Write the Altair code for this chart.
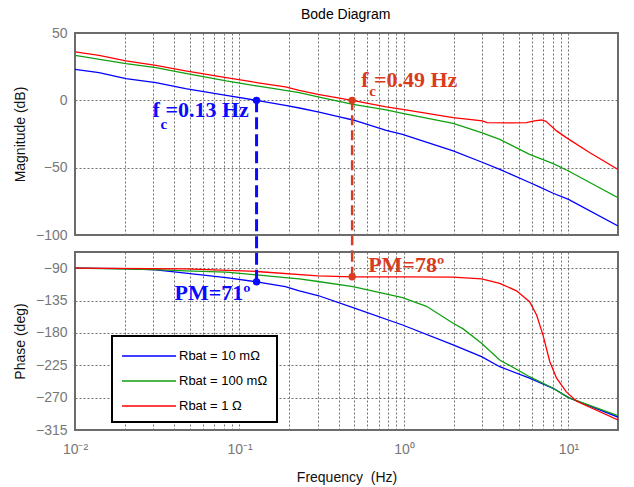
import altair as alt
import pandas as pd

# ---------------- data ----------------
series_names = ["Rbat = 10 mΩ", "Rbat = 100 mΩ", "Rbat = 1 Ω"]
series_colors = ["#0000ff", "#10a010", "#ff0000"]

blue_mag_f = [0.01, 0.014, 0.0204, 0.031, 0.047, 0.083, 0.127, 0.19, 0.231, 0.30, 0.405, 0.49,
              0.78, 0.98, 1.99, 2.96, 3.82, 5.8, 6.7, 8.07, 10, 20]
blue_mag_db = [23, 20.6, 16.1, 13.2, 8.7, 3.7, 0, -3.7, -5.7, -8.6, -12.3, -14.6,
               -22.3, -25.3, -37.6, -45.8, -51.3, -61.0, -64.5, -69.0, -73.6, -93.3]

green_mag_f = [0.01, 0.0204, 0.031, 0.047, 0.083, 0.127, 0.19, 0.231, 0.30, 0.49, 0.78, 0.98,
               1.99, 2.96, 3.82, 5.8, 8.07, 10, 20]
green_mag_db = [33.4, 27.3, 24.3, 20.1, 14.4, 10.7, 7.4, 5.7, 2.5, -3.0, -7.1, -9.7,
                -17.1, -24.0, -29.0, -40.1, -47.0, -52.5, -72.3]

red_mag_f = [0.01, 0.014, 0.0204, 0.031, 0.047, 0.083, 0.127, 0.19, 0.231, 0.30, 0.484, 0.78, 0.98,
             1.99, 3.0, 3.2, 4.5, 5.56, 6.2, 6.85, 7.3, 8.47, 9.7, 13.5, 20]
red_mag_db = [36, 33.4, 29.3, 26.0, 21.8, 16.9, 13.2, 10.0, 7.4, 4.5, 0, -4.9, -6.7,
              -12.9, -15.3, -16.6, -16.8, -16.6, -15.2, -14.6, -15.6, -22.7, -27.7, -38.9, -51.3]

blue_ph_f = [0.01, 0.0204, 0.031, 0.047, 0.083, 0.127, 0.19, 0.231, 0.30, 0.49, 0.98,
             1.99, 2.96, 3.82, 5.8, 8.07, 10, 20]
blue_ph_deg = [-90, -90.5, -92.3, -97, -103, -109, -115.5, -121.5, -128, -145, -169,
               -196.7, -213, -227, -243, -257, -270, -297]

green_ph_f = [0.01, 0.031, 0.047, 0.083, 0.127, 0.19, 0.231, 0.30, 0.49, 0.98, 1.37,
              1.99, 2.29, 2.96, 3.82, 5.8, 8.07, 10, 20]
green_ph_deg = [-90, -92, -93.7, -95.5, -99.3, -103, -105, -108.5, -115.5, -131, -143,
                -166.6, -174.4, -194.5, -217.6, -240.9, -257, -270, -295]

red_ph_f = [0.01, 0.047, 0.127, 0.30, 0.484, 0.98, 1.99, 2.96, 3.82, 4.83, 5.8, 6.4,
            7.0, 7.7, 8.47, 9.7, 11.2, 20]
red_ph_deg = [-90, -91, -94.6, -100.6, -102, -102, -102.5, -105, -111, -121.5, -136.5, -155,
              -183, -220, -243, -262, -275, -301]

crossover_f = [0.127, 0.484]
crossover_mag = [0, 0]
margin_phase = [-109, -102]
fc_texts = ["f =0.13 Hz", "f =0.49 Hz"]
pm_texts = ["PM=71º", "PM=78º"]
ann_colors = ["#0a0aff", "#d93b1e"]

decades = [0.01, 0.1, 1, 10]
decade_labels = ["10⁻²", "10⁻¹", "10⁰", "10¹"]
grid_vals = [d * k for d in [0.01, 0.1, 1] for k in range(1, 10)] + [10, 20]
mag_ticks = [-100, -50, 0, 50]
phase_ticks = [-315, -270, -225, -180, -135, -90]

# ---------------- tables ----------------
def table(fs, vs, name):
    return pd.DataFrame({"f": fs, "v": vs, "series": name})

mag_df = pd.concat([table(blue_mag_f, blue_mag_db, series_names[0]),
                    table(green_mag_f, green_mag_db, series_names[1]),
                    table(red_mag_f, red_mag_db, series_names[2])], ignore_index=True)
ph_df = pd.concat([table(blue_ph_f, blue_ph_deg, series_names[0]),
                   table(green_ph_f, green_ph_deg, series_names[1]),
                   table(red_ph_f, red_ph_deg, series_names[2])], ignore_index=True)

W = 543
H_MAG = 202
H_PH = 178
SPACING = 17
MAG_DOM = [-100, 50]
PH_DOM = [-315, -67.5]
gap_db = MAG_DOM[0] - SPACING * (MAG_DOM[1] - MAG_DOM[0]) / H_MAG

label_expr = " : ".join(
    f"datum.value == {d} ? '{l}'" for d, l in zip(decades, decade_labels)) + " : ''"

FONT = "Liberation Sans"
SERIF = "Liberation Serif"

xscale = alt.Scale(type="log", domain=[0.01, 20], nice=False)
mag_scale = alt.Scale(domain=MAG_DOM, nice=False)
ph_scale = alt.Scale(domain=PH_DOM, nice=False)
color = alt.Color("series:N", scale=alt.Scale(domain=series_names, range=series_colors), legend=None)

grid_common = dict(grid=True, gridDash=[2, 2], gridColor="#707070", gridOpacity=1, gridWidth=1,
                   ticks=False, domain=False, labelOverlap=False)

ax_x_top = alt.Axis(values=grid_vals, labels=False, title=None, **grid_common)
ax_x_bot = alt.Axis(values=grid_vals, labelExpr=label_expr, labelFlush=False,
                    labelPadding=12, title="Frequency\u00a0 (Hz)", titlePadding=14, **grid_common)
ax_y_mag = alt.Axis(values=mag_ticks, title="Magnitude (dB)", labelPadding=8, titlePadding=8, **grid_common)
ax_y_ph = alt.Axis(values=phase_ticks, title="Phase (deg)", labelPadding=8, titlePadding=8, **grid_common)

# ---------------- magnitude panel ----------------
def xt(field):
    return alt.X(field, scale=xscale, axis=ax_x_top)

def ym(field):
    return alt.Y(field, scale=mag_scale, axis=ax_y_mag)

mag_lines = alt.Chart(mag_df).mark_line(strokeWidth=1.3, clip=True).encode(
    x=xt("f:Q"), y=ym("v:Q"), color=color)

ann_df = pd.DataFrame({"f": crossover_f, "v": crossover_mag, "p": margin_phase,
                       "fc": fc_texts, "pm": pm_texts,
                       "gap": [gap_db, gap_db], "top": [PH_DOM[1], PH_DOM[1]]})

def ann_layers_mag(i, dash, sw, dx_f, dy_f, dx_c, dy_c):
    d = ann_df.iloc[[i]]
    col = ann_colors[i]
    rule = alt.Chart(d).mark_rule(color=col, strokeWidth=sw, strokeDash=dash).encode(
        x=xt("f:Q"), y=ym("v:Q"), y2="gap:Q")
    pt = alt.Chart(d).mark_circle(color=col, size=55, opacity=1).encode(x=xt("f:Q"), y=ym("v:Q"))
    t1 = alt.Chart(d).mark_text(color=col, font=SERIF, fontWeight="bold", fontSize=22,
                                align="left", baseline="alphabetic", dx=dx_f, dy=dy_f).encode(
        x=xt("f:Q"), y=ym("v:Q"), text="fc:N")
    t2 = alt.Chart(d).mark_text(color=col, font=SERIF, fontWeight="bold", fontSize=15,
                                align="left", baseline="alphabetic", dx=dx_c, dy=dy_c).encode(
        x=xt("f:Q"), y=ym("v:Q"), text=alt.value("c"))
    return [rule, pt, t1, t2]

mag_chart = alt.layer(
    mag_lines,
    *ann_layers_mag(0, [12, 5], 3, -104, 17, -96, 29),
    *ann_layers_mag(1, [10, 5], 2.5, 9, -13, 17, -4),
).properties(width=W, height=H_MAG)

# ---------------- phase panel ----------------
def xb(field):
    return alt.X(field, scale=xscale, axis=ax_x_bot)

def yp(field):
    return alt.Y(field, scale=ph_scale, axis=ax_y_ph)

legend = alt.Legend(orient="none", legendX=37, legendY=84, title=None,
                    symbolType="M-1,0H4.4", symbolSize=400, symbolStrokeWidth=1.3,
                    labelFont=FONT, labelFontSize=13, labelColor="black", labelOffset=36,
                    rowPadding=7, padding=9, strokeColor="black", fillColor="white")
color_leg = alt.Color("series:N", scale=alt.Scale(domain=series_names, range=series_colors), legend=legend)

ph_lines = alt.Chart(ph_df).mark_line(strokeWidth=1.3, clip=True).encode(
    x=xb("f:Q"), y=yp("v:Q"), color=color_leg)

def ann_layers_ph(i, dash, sw, dx, dy):
    d = ann_df.iloc[[i]]
    col = ann_colors[i]
    rule = alt.Chart(d).mark_rule(color=col, strokeWidth=sw, strokeDash=dash).encode(
        x=xb("f:Q"), y=yp("p:Q"), y2="top:Q")
    pt = alt.Chart(d).mark_circle(color=col, size=55, opacity=1).encode(x=xb("f:Q"), y=yp("p:Q"))
    t = alt.Chart(d).mark_text(color=col, font=SERIF, fontWeight="bold", fontSize=22,
                               align="left", baseline="alphabetic", dx=dx, dy=dy).encode(
        x=xb("f:Q"), y=yp("p:Q"), text="pm:N")
    return [rule, pt, t]

ph_chart = alt.layer(
    ph_lines,
    *ann_layers_ph(0, [12, 5], 3, -82, 18),
    *ann_layers_ph(1, [10, 5], 2.5, 16, -5),
).properties(width=W, height=H_PH)

chart = alt.vconcat(mag_chart, ph_chart, spacing=SPACING, bounds="flush").resolve_legend(
    color="independent").properties(
    title=alt.TitleParams("Bode Diagram", anchor="middle", fontSize=14, fontWeight="normal",
                          font=FONT, color="black", offset=3, dx=30),
    padding={"left": 12, "top": 8, "right": 10, "bottom": 5},
    background="white",
).configure_view(stroke="#6a6a6a", strokeWidth=2).configure_axis(
    labelFont=FONT, labelFontSize=14, labelColor="#777777", labelOverlap=False,
    titleFont=FONT, titleFontSize=14, titleFontWeight="normal", titleColor="#111111",
).configure_legend(strokeWidth=2)

chart.save("out.html", embed_options={"renderer": "svg", "actions": False})
